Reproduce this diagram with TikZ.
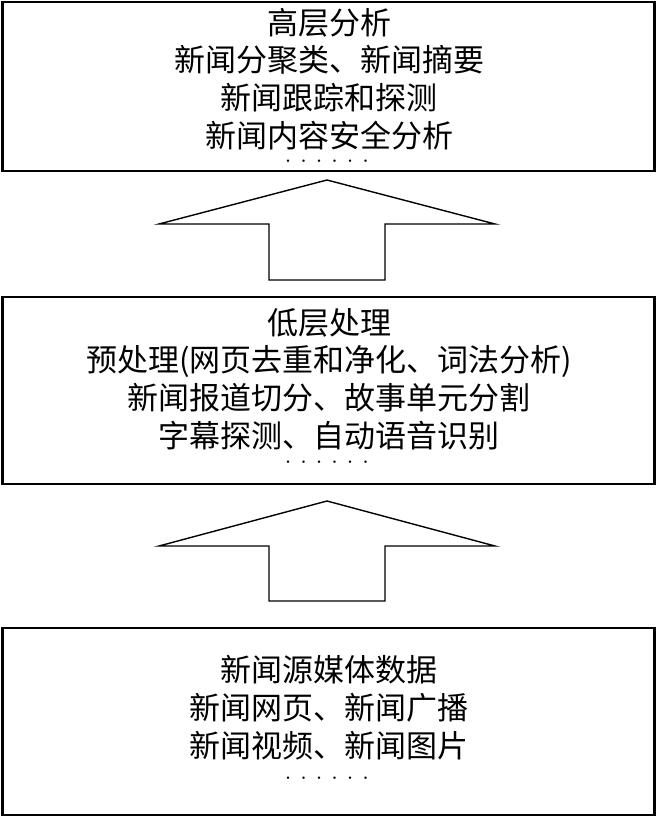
\documentclass[tikz,border=0pt]{standalone}
\usepackage{fontspec}
\newfontfamily\cjk{Noto Sans CJK SC}
\newfontfamily\dotfont{Liberation Serif}
\newcommand\sixdots{{\dotfont\fontsize{10}{10}\selectfont •\hskip12pt•\hskip12pt•\hskip12pt•\hskip12pt•\hskip12pt•}}
\tikzset{
  layerbox/.style={draw=black, line width=2.2pt, inner sep=0pt},
  layertext/.style={align=center, font=\cjk\fontsize{31}{37.7}\selectfont, inner sep=0pt},
  dotsnode/.style={inner sep=0pt, anchor=base},
  blockarrow/.style={draw=black, line width=1.4pt, line join=miter, fill=white}
}
\begin{document}
\begin{tikzpicture}[x=1pt,y=-1pt]
\useasboundingbox (0,0) rectangle (657,817);
% boxes
\node[layerbox, minimum width=652pt, minimum height=169pt] (high) at (328.5,86.5) {};
\node[layerbox, minimum width=652pt, minimum height=187pt] (low) at (328.5,390.5) {};
\node[layerbox, minimum width=652pt, minimum height=187pt] (src) at (328.5,721.5) {};
% texts
\node[layertext] (hightext) at (329,79) {高层分析\\新闻分聚类、新闻摘要\\新闻跟踪和探测\\新闻内容安全分析};
\node[dotsnode] (highdots) at (327,164) {\sixdots};
\node[layertext] (lowtext) at (329,379) {低层处理\\预处理(网页去重和净化、词法分析)\\新闻报道切分、故事单元分割\\字幕探测、自动语音识别};
\node[dotsnode] (lowdots) at (327,465) {\sixdots};
\node[layertext] (srctext) at (329,707.5) {新闻源媒体数据\\新闻网页、新闻广播\\新闻视频、新闻图片};
\node[dotsnode] (srcdots) at (327,781) {\sixdots};
% arrows
\coordinate (a1) at (327,180);
\draw[blockarrow] (a1) -- ++(168,44) -- ++(-110,0) -- ++(0,56) -- ++(-116,0) -- ++(0,-56) -- ++(-110,0) -- cycle;
\coordinate (a2) at (327,501);
\draw[blockarrow] (a2) -- ++(168,45) -- ++(-110,0) -- ++(0,55) -- ++(-116,0) -- ++(0,-55) -- ++(-110,0) -- cycle;
\end{tikzpicture}
\end{document}
